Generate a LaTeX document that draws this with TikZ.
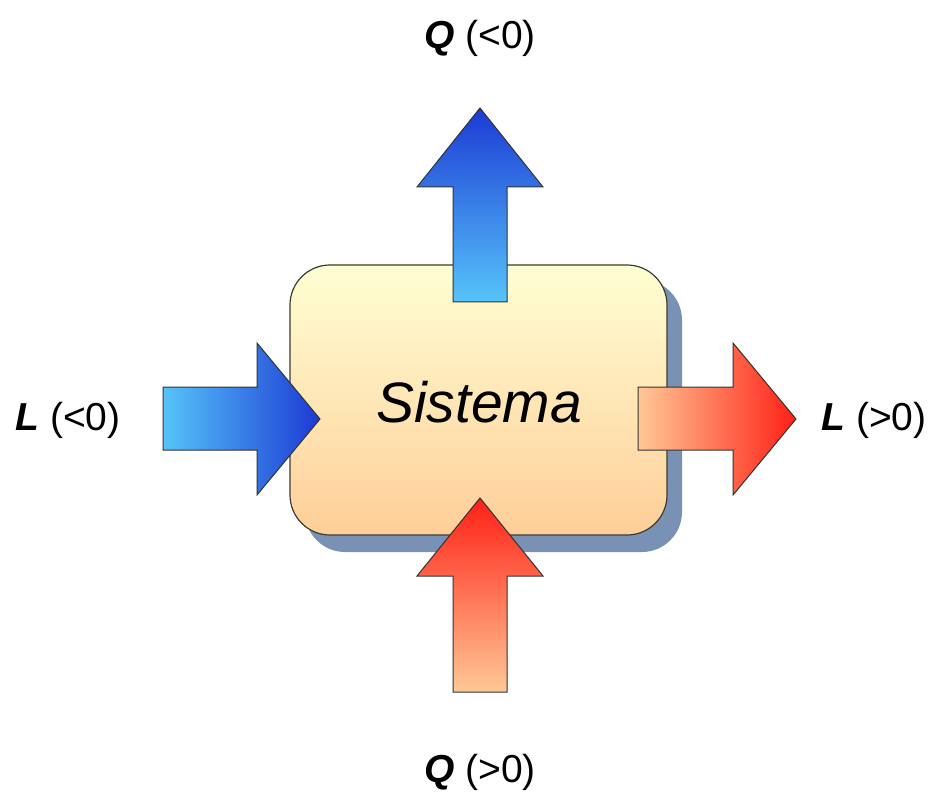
\documentclass[tikz,border=0pt]{standalone}
\usepackage{fontspec}
\setmainfont{Liberation Sans}
\usetikzlibrary{positioning}

\definecolor{boxtop}{RGB}{255,255,212}
\definecolor{boxbot}{RGB}{255,206,152}
\definecolor{boxline}{RGB}{60,60,45}
\definecolor{shadowc}{RGB}{120,145,180}
\definecolor{darkblue}{RGB}{28,58,212}
\definecolor{lightblue}{RGB}{86,196,250}
\definecolor{hotred}{RGB}{255,32,22}
\definecolor{peach}{RGB}{255,200,150}

\begin{document}
\begin{tikzpicture}
  [x=1pt,y=-1pt,
   blockA/.style={draw=black!80,line width=1pt,line join=miter},
   signT/.style={font=\fontsize{39}{44}\selectfont,inner sep=0pt}]

  \useasboundingbox (0,0) rectangle (945,794);

  % system box with its shadow
  \fill[shadowc,rounded corners=40pt] (305,280) rectangle (682,552);
  \draw[boxline,line width=1.2pt,rounded corners=40pt,top color=boxtop,bottom color=boxbot]
       (290,265) rectangle (667,535);
  \node[font=\fontsize{57}{66}\selectfont\itshape,inner sep=0pt] (sys) at (479,402) {Sistema};

  % Q < 0 (up, out of the box)
  \draw[blockA,top color=darkblue,bottom color=lightblue]
       (453,302) -- (453,187) -- (417,187) -- (480,108) -- (543,187) -- (507,187) -- (507,302) -- cycle;
  % L < 0 (in from the left)
  \draw[blockA,left color=lightblue,right color=darkblue]
       (163,387) -- (257,387) -- (257,343) -- (320,419) -- (257,495) -- (257,450) -- (163,450) -- cycle;
  % L > 0 (out to the right)
  \draw[blockA,left color=peach,right color=hotred]
       (638,387) -- (733,387) -- (733,343) -- (796,419) -- (733,495) -- (733,450) -- (638,450) -- cycle;
  % Q > 0 (up, into the box)
  \draw[blockA,top color=hotred,bottom color=peach]
       (453,692) -- (453,576) -- (417,576) -- (480,498) -- (543,576) -- (507,576) -- (507,692) -- cycle;

  \node[signT] (qout) at (480,38)  {\textbf{\textit{Q}} (<0)};
  \node[signT] (lin)  at (68,420)  {\textbf{\textit{L}} (<0)};
  \node[signT] (lout) at (874,420) {\textbf{\textit{L}} (>0)};
  \node[signT] (qin)  at (480,772) {\textbf{\textit{Q}} (>0)};

\end{tikzpicture}
\end{document}
